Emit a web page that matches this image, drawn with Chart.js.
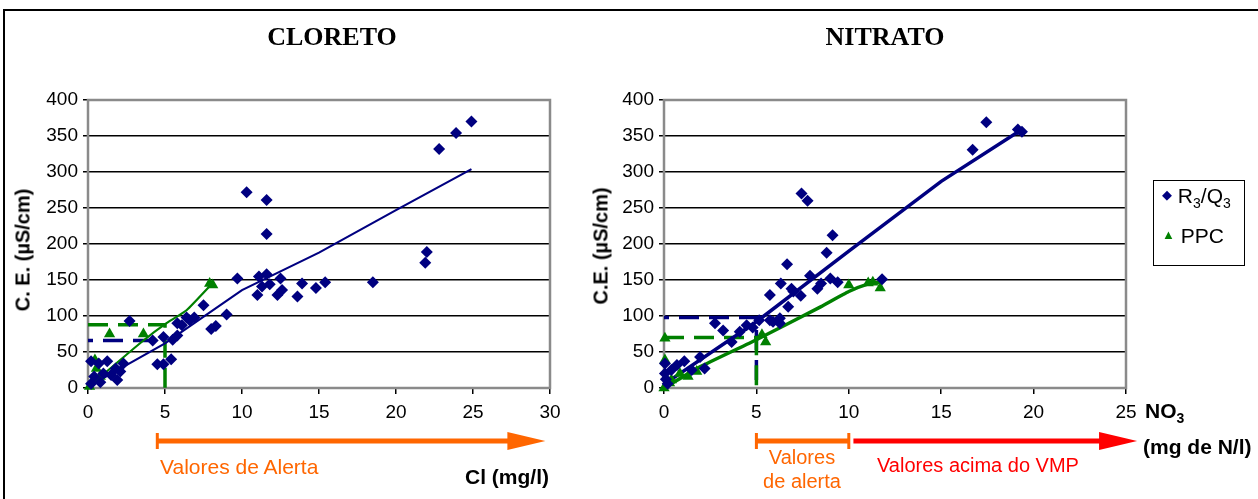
<!DOCTYPE html>
<html>
<head>
<meta charset="utf-8">
<script src="https://cdn.jsdelivr.net/npm/chart.js@4.4.0/dist/chart.umd.min.js"></script>
<style>
  body { margin: 0; width: 1258px; height: 499px; position: relative; overflow: hidden; background: #fff; font-family: "Liberation Sans", Arial, sans-serif; }
  #frame { position: absolute; left: 3px; top: 9px; width: 1300px; height: 600px; border-left: 2px solid #000; border-top: 2px solid #000; }
  canvas { position: absolute; top: 0; }
  .txt { position: absolute; white-space: nowrap; }
  .title { font-family: "Liberation Serif", "Times New Roman", serif; font-weight: bold; font-size: 26px; transform: translateX(-50%); }
  .ytitle { font-weight: bold; font-size: 20px; transform: translate(-50%, -50%) rotate(-90deg); }
  .legend { position: absolute; left: 1153px; top: 180px; width: 92px; height: 86px; border: 1px solid #000; box-sizing: border-box; font-size: 21px; }
  .legend div { position: absolute; left: 8px; }
</style>
</head>
<body>
<div id="frame"></div>
<canvas id="cloreto" width="600" height="499" style="left:0"></canvas>
<canvas id="nitrato" width="658" height="499" style="left:600px"></canvas>

<div class="txt title" style="left:332px; top:22px">CLORETO</div>
<div class="txt title" style="left:885px; top:22px">NITRATO</div>
<div class="txt ytitle" style="left:23px; top:250px">C. E. (µS/cm)</div>
<div class="txt ytitle" style="left:601px; top:246px">C.E. (µS/cm)</div>

<div class="txt" style="left:160px; top:455px; font-size:21px; color:#FF6600">Valores de Alerta</div>
<div class="txt" style="left:465px; top:465px; font-size:21px; font-weight:bold">Cl (mg/l)</div>
<div class="txt" style="left:802px; top:445px; font-size:20px; color:#FF6600; text-align:center; transform:translateX(-50%); line-height:24px">Valores<br>de alerta</div>
<div class="txt" style="left:877px; top:454px; font-size:20px; color:#FF0000">Valores acima do VMP</div>
<div class="txt" style="left:1145px; top:399px; font-size:21px; font-weight:bold">NO<sub style="font-size:14px">3</sub></div>
<div class="txt" style="left:1143px; top:435px; font-size:21px; font-weight:bold">(mg de N/l)</div>

<div class="legend">
  <div style="top:3px"><span style="color:#000080; font-size:13px; vertical-align:4px">◆</span> R<sub style="font-size:14px">3</sub>/Q<sub style="font-size:14px">3</sub></div>
  <div style="top:43px"><span style="color:#008000; font-size:13px; vertical-align:4px">▲</span> PPC</div>
</div>

<script>
// Cloreto: C.E. (uS/cm) against Cl (mg/l)
const clR3Q3 = [
  [0.2, 37], [0.7, 34], [1.25, 37], [1.8, 27], [1.9, 11], [1.0, 20], [0.4, 16], [2.3, 34], [0.2, 6], [0.8, 8], [1.5, 18], [2.1, 23],
  [2.7, 93], [4.2, 66], [4.5, 33], [4.9, 33], [5.4, 40], [4.9, 71], [5.5, 67], [5.8, 73], [5.8, 90], [6.1, 87], [6.4, 98],
  [6.6, 94], [6.9, 98], [7.5, 115], [8.0, 82], [8.3, 86], [9.0, 102], [9.7, 152], [10.3, 272], [11.6, 261], [11.6, 214],
  [11.1, 155], [11.6, 158], [11.3, 141], [11.8, 144], [12.5, 152], [11.0, 129], [12.6, 136], [12.3, 129], [13.9, 145],
  [13.6, 127], [14.8, 139], [15.4, 147], [18.5, 147], [21.9, 174], [22.0, 189], [22.8, 332], [23.9, 354], [24.9, 370]
];
const clPPC = [[0.1, 2], [0.4, 10], [0.45, 39], [0.55, 27], [0.8, 16], [1.4, 75], [3.6, 75], [7.9, 145], [8.1, 143]];
const clR3Q3Trend = [[0.1, 3], [5, 62], [10, 136], [15, 188], [20, 247], [24.9, 304]];
const clPPCTrend = [[0.1, 2], [1, 19], [3.6, 66], [5.1, 90], [6.4, 108], [8.1, 146]];
const clR3Q3Limit = [[0, 66], [4.8, 66]];
const clPPCLimit = [[0, 88], [5, 88], [5, 0]];

// Nitrato: C.E. (uS/cm) against NO3 (mg de N/l)
const noR3Q3 = [
  [0.05, 34], [0.05, 20], [0.2, 6], [0.1, 12], [0.4, 25], [0.7, 32], [1.1, 37], [1.5, 25], [1.95, 43], [2.2, 27],
  [2.76, 90], [3.2, 80], [3.66, 64], [4.1, 78], [4.47, 87], [4.8, 84], [5.15, 94], [5.73, 94], [5.9, 92], [6.27, 97],
  [6.27, 90], [5.73, 129], [6.32, 145], [6.66, 172], [6.72, 113], [6.9, 138], [7.0, 134], [7.4, 128], [7.44, 270],
  [7.77, 260], [7.9, 156], [8.3, 138], [8.5, 145], [8.8, 188], [9.0, 152], [9.12, 212], [9.4, 147], [11.8, 151],
  [16.7, 331], [17.44, 369], [19.15, 359], [19.37, 356]
];
const noPPC = [[0, 0], [0.3, 7], [0.4, 11], [0.86, 20], [1.3, 16], [1.77, 23], [0.05, 39], [0.05, 69], [5.3, 74], [5.5, 64],
  [10.0, 143], [11.05, 146], [11.7, 139], [11.3, 147]];
const noR3Q3Trend = [[0, 5], [5, 92], [10, 190], [15, 287], [19.3, 358]];
const noPPCTrend = [[0, 0], [2, 30], [5, 67], [8.5, 113], [10, 134], [11.1, 145], [11.7, 147]];
const noR3Q3Limit = [[0, 98], [5, 98], [5, 0]];
const noPPCLimit = [[0, 70], [5, 70], [5, 0]];

const yTicks = [0, 50, 100, 150, 200, 250, 300, 350, 400];

const NAVY = '#000080';
const GREEN = '#008000';

Chart.defaults.font.family = '"Liberation Sans", Arial, sans-serif';
Chart.defaults.color = '#000';

function pts(arr) {
  return arr.map(p => ({ x: p[0], y: p[1] }));
}

// gray box around the plot area
const plotFrame = {
  id: 'plotFrame',
  beforeDatasetsDraw(chart) {
    const a = chart.chartArea;
    const ctx = chart.ctx;
    ctx.save();
    ctx.strokeStyle = '#8a8a8a';
    ctx.lineWidth = 2.5;
    ctx.strokeRect(a.left, a.top, a.right - a.left, a.bottom - a.top);
    ctx.restore();
  }
};

// arrows under the x axis, placed on x values
const rangeArrows = {
  id: 'rangeArrows',
  afterDraw(chart, args, opts) {
    const ctx = chart.ctx;
    const xs = chart.scales.x;
    const y = opts.y;
    ctx.save();
    (opts.items || []).forEach(it => {
      const x1 = xs.getPixelForValue(it.from);
      const x2 = xs.getPixelForValue(it.to);
      ctx.strokeStyle = it.color;
      ctx.fillStyle = it.color;
      ctx.lineWidth = 5;
      ctx.beginPath();
      ctx.moveTo(x1, y);
      ctx.lineTo(it.head ? x2 - 30 : x2, y);
      ctx.stroke();
      ctx.lineWidth = 3;
      if (it.startBar) {
        ctx.beginPath();
        ctx.moveTo(x1, y - 8);
        ctx.lineTo(x1, y + 8);
        ctx.stroke();
      }
      if (it.endBar) {
        ctx.beginPath();
        ctx.moveTo(x2, y - 8);
        ctx.lineTo(x2, y + 8);
        ctx.stroke();
      }
      if (it.head) {
        ctx.beginPath();
        ctx.moveTo(x2 - 38, y - 9);
        ctx.lineTo(x2, y);
        ctx.lineTo(x2 - 38, y + 9);
        ctx.closePath();
        ctx.fill();
      }
    });
    ctx.restore();
  }
};

function makeChart(id, xMax, data, padding, trendWidth, arrows) {
  return new Chart(document.getElementById(id), {
    type: 'scatter',
    data: {
      datasets: [
        { label: 'R3/Q3', data: pts(data.r3), pointStyle: 'rectRot', radius: 6, backgroundColor: NAVY, borderColor: NAVY, borderWidth: 0, clip: false },
        { label: 'PPC', data: pts(data.ppc), pointStyle: 'triangle', radius: 6.5, backgroundColor: GREEN, borderColor: GREEN, borderWidth: 0, clip: false },
        { type: 'line', data: pts(data.ppcTrend), borderColor: GREEN, borderWidth: trendWidth, pointRadius: 0, tension: 0.15, fill: false },
        { type: 'line', data: pts(data.r3Trend), borderColor: NAVY, borderWidth: trendWidth, pointRadius: 0, tension: 0, fill: false },
        { type: 'line', data: pts(data.ppcLimit), borderColor: GREEN, borderWidth: 3.5, borderDash: [20, 10], pointRadius: 0, fill: false, clip: false },
        { type: 'line', data: pts(data.r3Limit), borderColor: NAVY, borderWidth: 3.5, borderDash: [20, 10], borderDashOffset: 15, pointRadius: 0, fill: false, clip: false }
      ]
    },
    options: {
      responsive: false,
      animation: false,
      layout: { padding: padding },
      plugins: {
        legend: { display: false },
        tooltip: { enabled: false },
        rangeArrows: arrows
      },
      scales: {
        x: {
          type: 'linear', min: 0, max: xMax,
          afterFit: s => { s.height = 40; },
          ticks: { stepSize: 5, font: { size: 19 }, padding: 7, color: '#000' },
          grid: { drawOnChartArea: false, tickColor: '#000', tickLength: 6, lineWidth: 1.5 },
          border: { display: false }
        },
        y: {
          type: 'linear', min: 0, max: 400,
          afterFit: s => { s.width = 50; },
          afterBuildTicks: s => { s.ticks = yTicks.map(v => ({ value: v })); },
          ticks: { font: { size: 19 }, padding: 5, color: '#000' },
          grid: {
            color: c => (c.tick && (c.tick.value === 0 || c.tick.value === 400)) ? 'rgba(0,0,0,0)' : '#000',
            tickColor: '#000', tickLength: 5, lineWidth: 1.5
          },
          border: { display: false }
        }
      }
    },
    plugins: [plotFrame, rangeArrows]
  });
}

makeChart('cloreto', 30,
  { r3: clR3Q3, ppc: clPPC, r3Trend: clR3Q3Trend, ppcTrend: clPPCTrend, r3Limit: clR3Q3Limit, ppcLimit: clPPCLimit },
  { left: 38, right: 50, top: 100, bottom: 71 }, 2.2,
  { y: 441, items: [{ from: 4.5, to: 29.7, color: '#FF6600', startBar: true, head: true }] });

makeChart('nitrato', 25,
  { r3: noR3Q3, ppc: noPPC, r3Trend: noR3Q3Trend, ppcTrend: noPPCTrend, r3Limit: noR3Q3Limit, ppcLimit: noPPCLimit },
  { left: 14, right: 132, top: 100, bottom: 71 }, 3.5,
  { y: 441, items: [
    { from: 5, to: 10, color: '#FF6600', startBar: true, endBar: true },
    { from: 10.25, to: 25.6, color: '#FF0000', head: true }
  ] });
</script>
</body>
</html>
